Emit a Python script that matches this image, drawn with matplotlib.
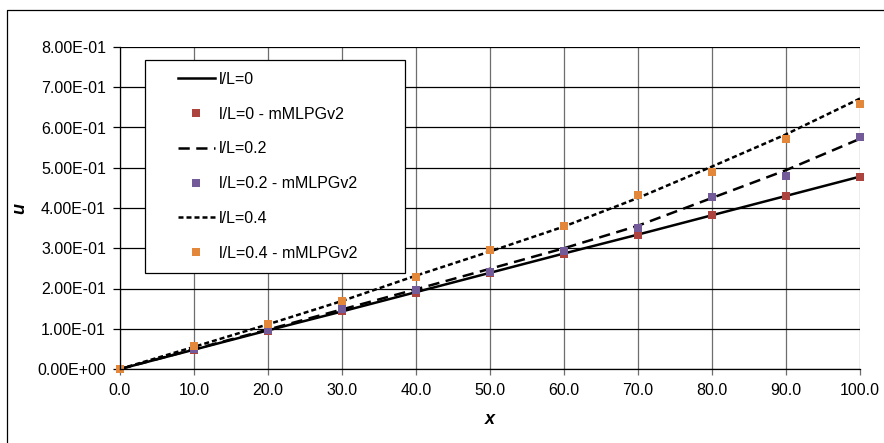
import matplotlib
matplotlib.use("Agg")
import matplotlib.pyplot as plt
from matplotlib.lines import Line2D
from matplotlib.legend_handler import HandlerLine2D
from matplotlib.transforms import Affine2D
from matplotlib.ticker import FuncFormatter, MultipleLocator

plt.rcParams['font.family'] = ['Liberation Sans', 'DejaVu Sans']

# ---- data ----
x_line = [0, 10, 20, 30, 40, 50, 60, 70, 80, 90, 100]
line_0 = [0, 0.048, 0.096, 0.143, 0.191, 0.239, 0.287, 0.334, 0.382, 0.430, 0.478]
line_02 = [0, 0.049, 0.098, 0.148, 0.198, 0.249, 0.300, 0.356, 0.425, 0.494, 0.572]
line_04 = [0, 0.055, 0.111, 0.169, 0.232, 0.292, 0.354, 0.425, 0.503, 0.583, 0.672]

x_pts = [0, 10, 20, 30, 40, 50, 60, 70, 80, 90, 100]
pts_0 = [0, 0.048, 0.095, 0.143, 0.190, 0.238, 0.285, 0.333, 0.383, 0.430, 0.478]
pts_02 = [0, 0.050, 0.097, 0.148, 0.196, 0.241, 0.292, 0.351, 0.428, 0.480, 0.577]
pts_04 = [0, 0.057, 0.113, 0.170, 0.228, 0.296, 0.356, 0.433, 0.490, 0.571, 0.659]

labels = ["l/L=0", "l/L=0 - mMLPGv2", "l/L=0.2", "l/L=0.2 - mMLPGv2",
          "l/L=0.4", "l/L=0.4 - mMLPGv2"]
xlabel = "x"
ylabel = "u"

# ---- figure ----
W, H = 884, 443
fig = plt.figure(figsize=(W / 100, H / 100), dpi=100)
ax = fig.add_axes([120 / W, (H - 369) / H, 740 / W, 322 / H])

red = '#AC433F'
purple = '#735A98'
orange = '#E3873B'
lw = 1.8
ms = 5.8

ax.plot(x_line, line_0, color='black', lw=lw, label=labels[0])
ax.plot(x_pts, pts_0, ls='none', marker='s', ms=ms, mew=0, color=red,
        label=labels[1], clip_on=False)
ax.plot(x_line, line_02, color='black', lw=lw, dashes=(4.5, 2.6), label=labels[2])
ax.plot(x_pts, pts_02, ls='none', marker='s', ms=ms, mew=0, color=purple,
        label=labels[3], clip_on=False)
ax.plot(x_line, line_04, color='black', lw=lw, dashes=(2.0, 1.2), label=labels[4])
ax.plot(x_pts, pts_04, ls='none', marker='s', ms=ms, mew=0, color=orange,
        label=labels[5], clip_on=False)

ax.set_xlim(0, 100)
ax.set_ylim(0, 0.8)
ax.xaxis.set_major_locator(MultipleLocator(10))
ax.yaxis.set_major_locator(MultipleLocator(0.1))
ax.xaxis.set_major_formatter(FuncFormatter(lambda v, p: f"{v:.1f}"))
ax.yaxis.set_major_formatter(FuncFormatter(lambda v, p: f"{v:.2E}"))

ax.set_axisbelow(True)
ax.grid(axis='y', color='black', lw=0.9)
ax.grid(axis='x', color='#6e6e6e', lw=0.9)
for s in ('top', 'right'):
    ax.spines[s].set_visible(False)
ax.spines['left'].set_linewidth(0.9)
ax.spines['bottom'].set_linewidth(0.9)

ax.tick_params(axis='y', direction='out', length=5, width=0.9, color='black',
               labelsize=11.5, pad=5)
ax.tick_params(axis='x', direction='out', length=4, width=0.9, color='#6e6e6e',
               labelsize=11.5, pad=6)

ax.set_xlabel(xlabel, fontsize=13, fontweight='bold', fontstyle='italic')
ax.set_ylabel(ylabel, fontsize=13, fontweight='bold', fontstyle='italic')
ax.xaxis.label.set_va('center')
ax.yaxis.label.set_va('center')
ax.xaxis.set_label_coords(0.5, -51 / 322)
ax.yaxis.set_label_coords(-100 / 740, 0.5)


class ShiftedHandler(HandlerLine2D):
    def __init__(self, shift_pt, **kw):
        super().__init__(**kw)
        self.shift_pt = shift_pt

    def create_artists(self, legend, orig_handle, xdescent, ydescent, width,
                       height, fontsize, trans):
        arts = super().create_artists(legend, orig_handle, xdescent, ydescent,
                                      width - self.shift_pt, height, fontsize, trans)
        for a in arts:
            a.set_transform(Affine2D().translate(self.shift_pt, 0) + trans)
        return arts


fs = 11.5
shift_pt = 21 * 0.72
handles, labs = ax.get_legend_handles_labels()
leg = ax.legend(handles, labs, loc='upper left',
                bbox_to_anchor=(25 / 740, (369 - 63) / 322, 260 / 740, 0.01),
                mode='expand', borderaxespad=0, fontsize=fs,
                borderpad=0.75, labelspacing=1.24,
                handlelength=(shift_pt + 37 * 0.72) / fs, handletextpad=0.25,
                fancybox=False, framealpha=1, edgecolor='black',
                handler_map={h: ShiftedHandler(shift_pt) for h in handles})
leg.get_frame().set_linewidth(0.9)

fig.add_artist(Line2D([7 / W, 7 / W, 1.0], [0, 1 - 10 / H, 1 - 10 / H],
                      transform=fig.transFigure, color='black', lw=0.9))

fig.savefig("out.png", dpi=100)
